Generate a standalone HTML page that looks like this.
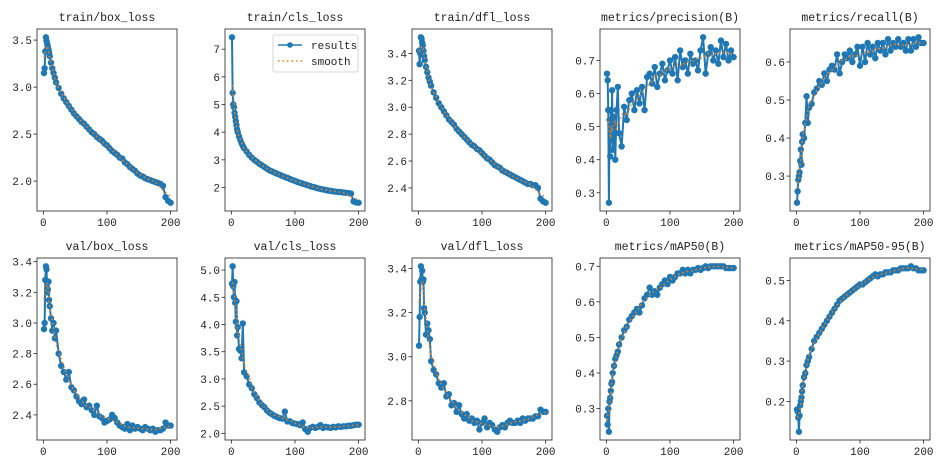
<!DOCTYPE html>
<html><head><meta charset="utf-8"><style>
html,body{margin:0;padding:0;background:#fff;}
svg{display:block;}
text{font-family:"Liberation Mono","Noto Sans CJK SC",monospace;fill:#222;}
</style></head><body>
<svg id="fig" width="939" height="470" viewBox="0 0 939 470" xmlns="http://www.w3.org/2000/svg"></svg>
<script>
const epochs=[1,2,3,4,5,6,7,8,9,10,12,14,16,18,20,24,28,32,36,40,44,48,52,56,60,64,68,72,76,80,84,88,92,96,100,104,108,112,116,120,124,128,132,136,140,144,148,152,156,160,164,168,172,176,180,184,188,192,196,200];
const titles=["train/box_loss","train/cls_loss","train/dfl_loss","metrics/precision(B)","metrics/recall(B)","val/box_loss","val/cls_loss","val/dfl_loss","metrics/mAP50(B)","metrics/mAP50-95(B)"];
const trainBox=[3.15,3.20,3.38,3.53,3.49,3.46,3.43,3.40,3.37,3.33,3.26,3.20,3.15,3.10,3.05,2.99,2.93,2.88,2.84,2.80,2.76,2.72,2.69,2.66,2.63,2.61,2.58,2.55,2.52,2.50,2.47,2.45,2.43,2.40,2.38,2.35,2.32,2.30,2.28,2.25,2.24,2.20,2.18,2.15,2.13,2.11,2.08,2.06,2.05,2.03,2.02,2.01,2.00,1.99,1.98,1.97,1.95,1.83,1.79,1.77];
const trainCls=[7.43,5.42,5.0,4.9,4.7,4.55,4.4,4.25,4.1,4.0,3.85,3.72,3.6,3.5,3.42,3.3,3.18,3.08,3.0,2.93,2.86,2.8,2.74,2.68,2.62,2.58,2.54,2.5,2.46,2.42,2.38,2.35,2.31,2.27,2.24,2.2,2.17,2.14,2.11,2.08,2.05,2.02,2.0,1.97,1.95,1.93,1.91,1.89,1.88,1.86,1.85,1.84,1.83,1.82,1.81,1.8,1.78,1.5,1.46,1.45];
const trainDfl=[3.42,3.32,3.40,3.52,3.51,3.48,3.46,3.42,3.38,3.35,3.30,3.26,3.22,3.19,3.16,3.11,3.07,3.03,3.00,2.97,2.94,2.91,2.89,2.87,2.84,2.82,2.80,2.78,2.76,2.74,2.72,2.71,2.69,2.68,2.66,2.64,2.62,2.61,2.59,2.57,2.56,2.55,2.53,2.52,2.51,2.50,2.49,2.48,2.47,2.46,2.45,2.44,2.43,2.43,2.42,2.42,2.40,2.32,2.30,2.29];
const precision=[0.66,0.64,0.55,0.27,0.52,0.41,0.55,0.46,0.61,0.43,0.53,0.40,0.55,0.62,0.48,0.44,0.56,0.52,0.58,0.60,0.55,0.61,0.57,0.62,0.55,0.65,0.66,0.63,0.68,0.62,0.66,0.69,0.64,0.67,0.70,0.66,0.71,0.64,0.73,0.68,0.70,0.66,0.72,0.69,0.70,0.67,0.73,0.77,0.66,0.72,0.74,0.70,0.73,0.69,0.76,0.71,0.75,0.70,0.73,0.71];
const recall=[0.23,0.26,0.29,0.30,0.31,0.34,0.37,0.33,0.39,0.41,0.40,0.44,0.51,0.44,0.48,0.49,0.52,0.53,0.55,0.54,0.57,0.55,0.58,0.59,0.58,0.62,0.57,0.60,0.62,0.61,0.63,0.60,0.62,0.64,0.59,0.64,0.60,0.65,0.62,0.64,0.61,0.65,0.63,0.65,0.62,0.66,0.63,0.65,0.64,0.66,0.64,0.65,0.63,0.66,0.63,0.66,0.64,0.665,0.65,0.65];
const valBox=[2.96,3.00,3.28,3.37,3.35,3.20,3.22,3.27,3.15,3.11,3.03,2.95,3.00,2.90,2.95,2.80,2.72,2.68,2.63,2.68,2.58,2.56,2.52,2.49,2.47,2.50,2.45,2.46,2.43,2.40,2.46,2.39,2.38,2.35,2.36,2.37,2.40,2.38,2.35,2.33,2.32,2.31,2.34,2.30,2.33,2.31,2.32,2.31,2.30,2.32,2.31,2.30,2.31,2.29,2.30,2.30,2.31,2.35,2.33,2.33];
const valCls=[4.75,5.07,4.7,4.5,4.78,4.4,4.05,4.43,3.8,3.95,3.55,3.52,3.38,4.02,3.12,3.05,2.9,2.83,2.72,2.65,2.57,2.52,2.48,2.42,2.38,2.35,2.32,2.30,2.28,2.27,2.40,2.22,2.22,2.19,2.18,2.17,2.15,2.20,2.08,2.03,2.10,2.12,2.10,2.12,2.15,2.10,2.12,2.11,2.10,2.12,2.11,2.13,2.12,2.13,2.13,2.14,2.14,2.15,2.16,2.16];
const valDfl=[3.05,3.18,3.34,3.41,3.35,3.39,3.34,3.35,3.22,3.20,3.10,3.15,3.12,3.08,2.98,2.94,2.92,2.88,2.86,2.88,2.82,2.83,2.78,2.79,2.75,2.78,2.74,2.72,2.74,2.71,2.72,2.70,2.71,2.67,2.70,2.72,2.68,2.70,2.69,2.67,2.66,2.68,2.69,2.68,2.70,2.71,2.70,2.70,2.71,2.70,2.72,2.71,2.72,2.72,2.72,2.73,2.73,2.76,2.75,2.75];
const map50=[0.28,0.255,0.30,0.235,0.32,0.33,0.35,0.37,0.375,0.40,0.42,0.44,0.45,0.46,0.48,0.50,0.52,0.53,0.55,0.56,0.57,0.58,0.57,0.59,0.61,0.62,0.64,0.62,0.63,0.62,0.64,0.65,0.66,0.65,0.67,0.66,0.67,0.68,0.68,0.69,0.68,0.69,0.68,0.69,0.69,0.695,0.69,0.695,0.70,0.695,0.70,0.70,0.70,0.70,0.70,0.70,0.695,0.695,0.695,0.695];
const map5095=[0.18,0.175,0.16,0.125,0.165,0.19,0.20,0.21,0.225,0.24,0.26,0.27,0.29,0.30,0.31,0.33,0.35,0.36,0.37,0.38,0.39,0.40,0.41,0.42,0.43,0.44,0.45,0.455,0.46,0.465,0.47,0.475,0.48,0.485,0.49,0.49,0.495,0.50,0.505,0.51,0.515,0.51,0.515,0.515,0.52,0.52,0.52,0.525,0.525,0.525,0.53,0.53,0.53,0.53,0.535,0.53,0.53,0.525,0.525,0.525];
const xTicks=[0,100,200];
const yTicks=[[2.0,2.5,3.0,3.5],[2,3,4,5,6,7],[2.4,2.6,2.8,3.0,3.2,3.4],[0.3,0.4,0.5,0.6,0.7],[0.3,0.4,0.5,0.6],[2.4,2.6,2.8,3.0,3.2,3.4],[2.0,2.5,3.0,3.5,4.0,4.5,5.0],[2.8,3.0,3.2,3.4],[0.3,0.4,0.5,0.6,0.7],[0.2,0.3,0.4,0.5]];
const yTickLabels=[["2.0","2.5","3.0","3.5"],["2","3","4","5","6","7"],["2.4","2.6","2.8","3.0","3.2","3.4"],["0.3","0.4","0.5","0.6","0.7"],["0.3","0.4","0.5","0.6"],["2.4","2.6","2.8","3.0","3.2","3.4"],["2.0","2.5","3.0","3.5","4.0","4.5","5.0"],["2.8","3.0","3.2","3.4"],["0.3","0.4","0.5","0.6","0.7"],["0.2","0.3","0.4","0.5"]];
const series=[trainBox,trainCls,trainDfl,precision,recall,valBox,valCls,valDfl,map50,map5095];

const NS="http://www.w3.org/2000/svg";
const svg=document.getElementById('fig');
function mk(tag,attrs,parent){const e=document.createElementNS(NS,tag);for(const k in attrs)e.setAttribute(k,attrs[k]);(parent||svg).appendChild(e);return e;}
const lefts=[37,225,412,600,790], W=140;
const tops=[29,258], H=182;
const BLUE="#1f77b4", ORANGE="#ff7f0e";
function smooth(v){return v.map((_,i)=>{let s=0,n=0;for(let j=i-3;j<=i+3;j++){if(j>=0&&j<v.length){s+=v[j];n++;}}return s/n;});}

series.forEach((vals,k)=>{
  const L=lefts[k%5], T=tops[Math.floor(k/5)];
  const g=mk('g',{});
  
  
  const mn=Math.min(...vals), mx=Math.max(...vals), r=mx-mn;
  const y0=mn-0.05*r, y1=mx+0.05*r;
  const xs=v=>L+(v+10)/220*W;
  const ys=v=>T+H-(v-y0)/(y1-y0)*H;
  const t=mk('text',{x:L+W/2,y:T-8,'text-anchor':'middle','font-size':'11.5'},g);
  t.textContent=titles[k];
  
  
  xTicks.forEach(v=>{
    const x=xs(v);
    const tl=mk('line',{x1:x,x2:x,y1:T+H,y2:T+H+3.5,stroke:'#222','stroke-width':0.8},g);
    
    
    const tx=mk('text',{x:x,y:T+H+15,'text-anchor':'middle','font-size':'11'},g);
    tx.textContent=String(v);
    
    
  });
  yTicks[k].forEach((v,i)=>{
    const y=ys(v);
    const tl=mk('line',{x1:L-3.5,x2:L,y1:y,y2:y,stroke:'#222','stroke-width':0.8},g);
    
    
    const tx=mk('text',{x:L-5,y:y+4,'text-anchor':'end','font-size':'11'},g);
    tx.textContent=yTickLabels[k][i];
    
    
  });
  const pts=vals.map((v,i)=>xs(epochs[i]).toFixed(2)+','+ys(v).toFixed(2)).join(' ');
  const pl=mk('polyline',{points:pts,fill:'none',stroke:BLUE,'stroke-width':2},g);
  
  
  vals.forEach((v,i)=>{
    const c=mk('circle',{cx:xs(epochs[i]),cy:ys(v),r:3.2,fill:BLUE},g);
    
    
  });
  const sm=smooth(vals);
  const sp=sm.map((v,i)=>xs(epochs[i]).toFixed(2)+','+ys(v).toFixed(2)).join(' ');
  const sl=mk('polyline',{points:sp,fill:'none',stroke:ORANGE,'stroke-width':1.5,'stroke-dasharray':'1.5,3'},g);
  
  
  const fr=mk('rect',{x:L,y:T,width:W,height:H,fill:'none',stroke:'#222','stroke-width':0.8},g);
  
  
  if(k===1){
    const lg=mk('g',{},g);
    
    
    mk('rect',{x:273,y:35,width:85,height:37,fill:'#fff',stroke:'#ccc','stroke-width':0.8,rx:2},lg);
    mk('line',{x1:278,x2:302,y1:45,y2:45,stroke:BLUE,'stroke-width':1.6},lg);
    mk('circle',{cx:290,cy:45,r:2.8,fill:BLUE},lg);
    const a=mk('text',{x:311,y:49,'font-size':'11'},lg);a.textContent='results';
    
    
    mk('line',{x1:278,x2:302,y1:61,y2:61,stroke:ORANGE,'stroke-width':1.5,'stroke-dasharray':'1.5,3'},lg);
    const b=mk('text',{x:311,y:65,'font-size':'11'},lg);b.textContent='smooth';
    
    
  }
});
</script>
</body></html>
